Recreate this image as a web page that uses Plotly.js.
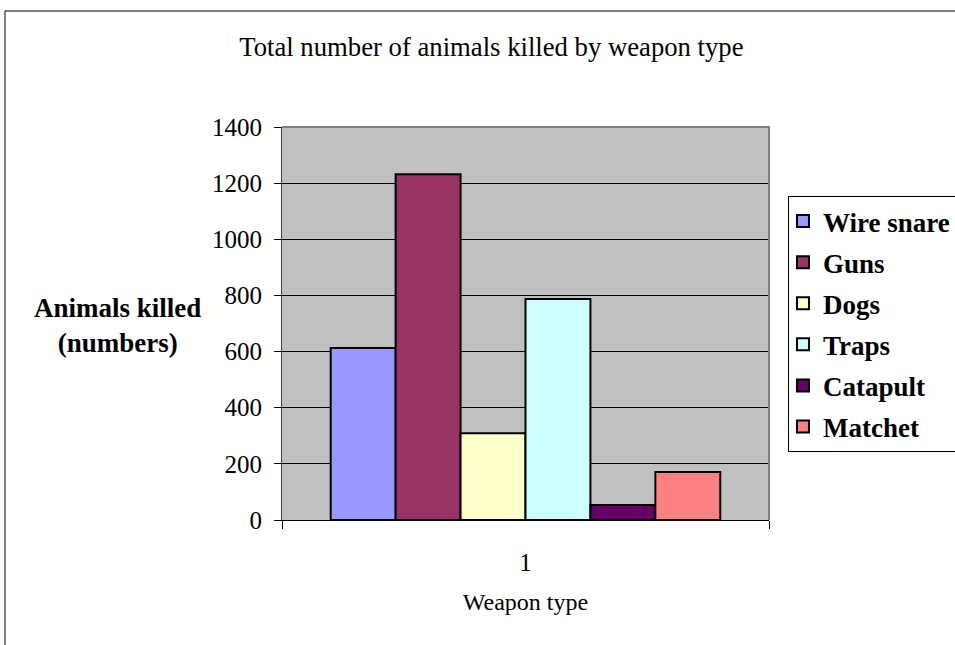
<!DOCTYPE html>
<html>
<head>
<meta charset="utf-8">
<script src="https://cdn.plot.ly/plotly-3.0.1.min.js"></script>
<style>
  html, body { margin: 0; padding: 0; background: #ffffff; }
  #chart { width: 955px; height: 645px; }
</style>
</head>
<body>
<div id="chart"></div>
<script>
// Data
const categories = ["1"];
const seriesNames = ["Wire snare", "Guns", "Dogs", "Traps", "Catapult", "Matchet"];
const seriesValues = [613, 1232, 309, 787, 53, 171];
const seriesColors = ["#9999FF", "#993366", "#FFFFCC", "#CCFFFF", "#660066", "#FF8080"];
const yTickValues = [0, 200, 400, 600, 800, 1000, 1200, 1400];

const FONT = "Liberation Serif, Times New Roman, serif";

const traces = seriesNames.map((name, i) => ({
  type: "bar",
  name: name,
  x: categories,
  y: [seriesValues[i]],
  legendgroup: "g" + i,
  marker: { color: seriesColors[i], line: { color: "#000000", width: 2 } },
  hoverinfo: "name+y"
}));

const layout = {
  width: 955,
  height: 645,
  margin: { l: 282, r: 186, t: 127, b: 125, autoexpand: false },
  paper_bgcolor: "#ffffff",
  plot_bgcolor: "#C0C0C0",
  font: { family: FONT, size: 25, color: "#000000" },
  title: {
    text: "Total number of animals killed by weapon type",
    font: { family: FONT, size: 26.7, color: "#000000" },
    x: 0.430, xanchor: "center", xref: "paper",
    y: 0.927, yanchor: "middle", yref: "container"
  },
  barmode: "group",
  bargap: 0.2,
  bargroupgap: 0,
  xaxis: {
    type: "category",
    range: [-0.5, 0.5],
    tickson: "boundaries",
    ticks: "outside",
    ticklen: 8,
    tickcolor: "#000000",
    tickwidth: 1,
    showline: true,
    linecolor: "#000000",
    linewidth: 1,
    showgrid: false,
    tickfont: { family: FONT, size: 25 },
    ticklabelstandoff: 20,
    title: { text: "Weapon type", font: { family: FONT, size: 24 }, standoff: 18 },
    automargin: false,
    fixedrange: true
  },
  yaxis: {
    range: [0, 1400],
    tickvals: yTickValues,
    ticktext: yTickValues.map(String),
    ticks: "outside",
    ticklen: 7,
    tickcolor: "#000000",
    tickwidth: 1,
    showline: true,
    linecolor: "#404040",
    linewidth: 1,
    showgrid: true,
    gridcolor: "#000000",
    gridwidth: 1,
    zeroline: false,
    tickfont: { family: FONT, size: 25 },
    ticklabelstandoff: 7,
    automargin: false,
    fixedrange: true
  },
  legend: {
    xref: "container", yref: "container",
    x: 0.8251, xanchor: "left",
    y: 0.6961, yanchor: "top",
    bordercolor: "#000000",
    borderwidth: 1,
    bgcolor: "#ffffff",
    traceorder: "grouped",
    tracegroupgap: 3,
    indentation: -6,
    font: { family: FONT, size: 27, color: "#000000", weight: "bold" },
    itemclick: false,
    itemdoubleclick: false
  },
  annotations: [
    {
      text: "<b>Animals killed</b><br><b>(numbers)</b>",
      xref: "paper", yref: "paper",
      x: -0.3388, y: 0.496,
      xanchor: "center", yanchor: "middle",
      showarrow: false,
      align: "center",
      font: { family: FONT, size: 27, color: "#000000" }
    }
  ],
  shapes: [
    {
      type: "path", xref: "paper", yref: "paper",
      path: "M 0 1 L 1 1 L 1 0",
      line: { color: "#808080", width: 2 },
      layer: "above"
    },
    {
      type: "rect", xref: "paper", yref: "paper",
      x0: -0.5688, x1: 1.40, y0: -0.35, y1: 1.2952,
      line: { color: "#000000", width: 1 },
      fillcolor: "rgba(0,0,0,0)",
      layer: "above"
    }
  ]
};

Plotly.newPlot("chart", traces, layout, { displayModeBar: false });
</script>
</body>
</html>
